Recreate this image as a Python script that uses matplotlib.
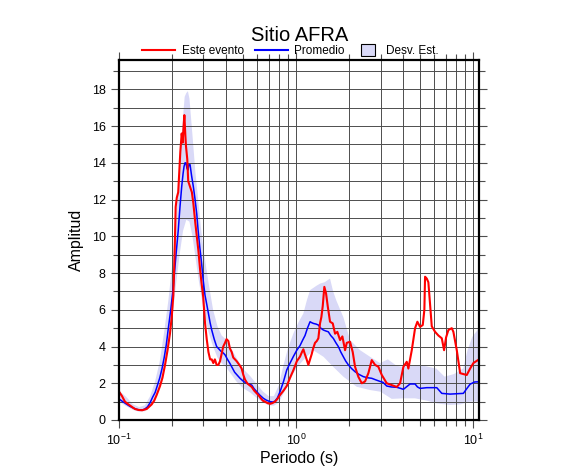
import numpy as np
import matplotlib
matplotlib.use("Agg")
from matplotlib import pyplot as plt
from matplotlib.lines import Line2D
from matplotlib.patches import Rectangle
from matplotlib.ticker import LogLocator, MultipleLocator

plt.rcParams['font.family'] = ['Liberation Sans', 'DejaVu Sans']
plt.rcParams['mathtext.fontset'] = 'custom'
plt.rcParams['mathtext.rm'] = 'Liberation Sans'
plt.rcParams['mathtext.it'] = 'Liberation Sans'

# este evento (red)
evento_T = [0.100, 0.104, 0.108, 0.113, 0.118, 0.123, 0.1285, 0.135, 0.1434, 0.148,
            0.153, 0.158, 0.163, 0.1705, 0.176, 0.182, 0.188, 0.194, 0.1985, 0.2027,
            0.206, 0.209, 0.212, 0.216, 0.219, 0.222, 0.226, 0.229, 0.231, 0.234,
            0.237, 0.239, 0.243, 0.246, 0.252, 0.258, 0.263, 0.266, 0.27, 0.275,
            0.281, 0.287, 0.293, 0.299, 0.306, 0.313, 0.32, 0.327, 0.334, 0.341,
            0.348, 0.356, 0.364, 0.372, 0.38, 0.388, 0.397, 0.405, 0.4145, 0.423,
            0.433, 0.442, 0.452, 0.462, 0.4826, 0.493, 0.504, 0.515, 0.53, 0.545,
            0.562, 0.58, 0.6, 0.6124, 0.63, 0.65, 0.668, 0.69, 0.713, 0.735,
            0.761, 0.785, 0.812, 0.85, 0.886, 0.925, 0.965, 1.01, 1.053, 1.08,
            1.1, 1.12, 1.139, 1.174, 1.2, 1.227, 1.25, 1.28, 1.31, 1.337,
            1.366, 1.39, 1.415, 1.445, 1.477, 1.51, 1.556, 1.612, 1.661, 1.711,
            1.773, 1.827, 1.892, 1.934, 2.018, 2.09, 2.154, 2.249, 2.351, 2.454,
            2.562, 2.677, 2.795, 2.917, 3.05, 3.253, 3.473, 3.707, 3.87, 4.04,
            4.22, 4.31, 4.505, 4.703, 4.846, 5.018, 5.197, 5.307, 5.355, 5.475,
            5.59, 5.715, 5.843, 6.10, 6.368, 6.655, 6.858, 7.04, 7.254, 7.58,
            7.74, 8.09, 8.45, 8.815, 9.21, 9.62, 10.04, 10.8]
evento_A = [1.55, 1.3, 1.0, 0.85, 0.72, 0.6, 0.55, 0.53, 0.6, 0.72,
            0.85, 1.05, 1.35, 1.85, 2.3, 3.0, 3.8, 4.7, 5.6, 6.8,
            9.0, 11.6, 12.1, 12.4, 13.5, 14.6, 15.6, 15.1, 15.8, 16.6,
            15.5, 14.9, 14.2, 13.0, 12.7, 12.4, 11.8, 11.3, 10.7, 10.0,
            9.2, 8.2, 7.4, 6.7, 5.3, 4.4, 3.7, 3.3, 3.3, 3.1,
            3.3, 3.0, 3.0, 3.2, 3.6, 4.0, 4.2, 4.4, 4.3, 3.9,
            3.7, 3.4, 3.3, 3.2, 2.95, 2.8, 2.45, 2.2, 2.0, 1.9,
            1.8, 1.6, 1.45, 1.36, 1.2, 1.05, 1.0, 0.92, 0.88, 0.92,
            1.0, 1.15, 1.36, 1.6, 1.85, 2.3, 2.7, 3.2, 3.45, 3.7,
            3.85, 3.6, 3.4, 3.0, 3.3, 3.6, 3.9, 4.2, 4.3, 4.45,
            5.26, 5.6, 6.2, 7.25, 6.9, 6.2, 5.35, 5.26, 4.7, 4.8,
            4.35, 4.55, 3.8, 4.2, 4.26, 3.7, 2.9, 2.35, 2.0, 2.1,
            2.55, 3.26, 3.0, 2.9, 2.45, 2.0, 1.9, 1.8, 2.0, 2.9,
            3.17, 2.8, 3.8, 5.0, 5.35, 5.07, 5.17, 6.0, 7.8, 7.7,
            7.5, 6.3, 5.1, 4.8, 4.6, 4.45, 3.8, 4.5, 4.9, 5.0,
            4.8, 3.8, 2.55, 2.5, 2.45, 2.8, 3.1, 3.3]

# promedio (blue)
prom_T = [0.100, 0.105, 0.11, 0.115, 0.12, 0.125, 0.13, 0.136, 0.14, 0.145,
          0.15, 0.155, 0.16, 0.165, 0.17, 0.175, 0.18, 0.185, 0.19, 0.196,
          0.2025, 0.209, 0.216, 0.221, 0.226, 0.23, 0.233, 0.236, 0.239, 0.242,
          0.245, 0.248, 0.252, 0.257, 0.263, 0.269, 0.275, 0.28, 0.286, 0.293,
          0.299, 0.306, 0.313, 0.32, 0.327, 0.334, 0.345, 0.356, 0.364, 0.376,
          0.388, 0.397, 0.41, 0.422, 0.433, 0.45, 0.4826, 0.505, 0.5266, 0.545,
          0.562, 0.58, 0.6, 0.625, 0.654, 0.68, 0.713, 0.74, 0.761, 0.785,
          0.812, 0.85, 0.886, 0.925, 0.965, 1.01, 1.053, 1.09, 1.124, 1.16,
          1.2, 1.225, 1.252, 1.3, 1.337, 1.38, 1.426, 1.47, 1.522, 1.57,
          1.625, 1.68, 1.733, 1.79, 1.851, 1.91, 1.975, 2.06, 2.154, 2.27,
          2.40, 2.54, 2.677, 2.83, 2.983, 3.1, 3.253, 3.45, 3.707, 3.9,
          4.04, 4.2, 4.406, 4.703, 4.85, 5.018, 5.475, 6.237, 6.45, 6.655,
          7.413, 8.815, 9.2, 9.62, 10.2, 10.8]
prom_A = [1.15, 1.0, 0.87, 0.75, 0.66, 0.59, 0.55, 0.55, 0.6, 0.72,
          0.95, 1.25, 1.5, 1.9, 2.3, 2.8, 3.4, 4.1, 5.0, 6.0,
          7.2, 8.8, 10.3, 11.6, 12.7, 13.4, 13.8, 14.0, 14.0, 13.7,
          13.6, 13.9, 13.9, 13.3, 12.7, 12.0, 11.2, 10.3, 9.4, 8.5,
          7.6, 6.8, 6.3, 5.8, 5.3, 4.9, 4.4, 4.0, 3.9, 3.75,
          3.65, 3.55, 3.3, 3.1, 2.9, 2.6, 2.27, 2.1, 2.0, 1.95,
          1.9, 1.7, 1.54, 1.35, 1.18, 1.08, 1.0, 0.98, 1.03, 1.2,
          1.54, 2.1, 2.72, 3.1, 3.45, 3.8, 4.05, 4.35, 4.6, 5.0,
          5.35, 5.3, 5.26, 5.22, 5.17, 5.0, 4.9, 4.85, 4.8, 4.6,
          4.44, 4.2, 4.0, 3.7, 3.44, 3.2, 3.0, 2.8, 2.63, 2.48,
          2.36, 2.3, 2.27, 2.18, 2.1, 2.05, 1.85, 1.8, 1.78, 1.72,
          1.67, 1.8, 1.96, 1.96, 1.8, 1.72, 1.76, 1.76, 1.6, 1.45,
          1.41, 1.45, 1.7, 1.95, 2.07, 2.08]

# desv. est. band
sup_T = [0.100, 0.11, 0.12, 0.13, 0.14, 0.15, 0.16, 0.17, 0.18, 0.19,
         0.2, 0.21, 0.22, 0.23, 0.235, 0.24, 0.245, 0.25, 0.26, 0.27,
         0.28, 0.29, 0.3, 0.32, 0.34, 0.36, 0.38, 0.4, 0.43, 0.46,
         0.5, 0.55, 0.6, 0.65, 0.7, 0.75, 0.8, 0.85, 0.9, 0.965,
         1.03, 1.1, 1.15, 1.2, 1.3, 1.37, 1.45, 1.556, 1.62, 1.69,
         1.85, 2.02, 2.3, 2.62, 2.98, 3.3, 3.7, 4.0, 4.5, 5.0,
         6.2, 6.9, 7.8, 8.8, 9.3, 9.9, 10.8]
sup_A = [1.6, 1.25, 0.85, 0.7, 0.8, 1.3, 2.1, 3.2, 4.8, 6.5,
         8.5, 11.0, 14.0, 16.5, 17.6, 17.8, 17.9, 17.5, 15.5, 13.5,
         12.0, 10.5, 9.3, 7.5, 6.0, 5.1, 4.6, 4.4, 3.9, 3.4,
         2.8, 2.4, 1.95, 1.55, 1.3, 1.3, 1.9, 3.0, 3.9, 4.7,
         5.3, 5.8, 6.5, 7.07, 7.3, 7.43, 7.5, 7.7, 7.0, 6.5,
         5.6, 4.35, 3.8, 3.44, 3.1, 3.3, 2.95, 2.9, 2.95, 3.0,
         2.8, 2.36, 2.5, 2.81, 3.8, 4.53, 5.0]
inf_T = [0.100, 0.11, 0.12, 0.13, 0.14, 0.15, 0.16, 0.17, 0.18, 0.19,
         0.2, 0.21, 0.22, 0.23, 0.24, 0.25, 0.26, 0.27, 0.28, 0.29,
         0.3, 0.32, 0.34, 0.36, 0.38, 0.4, 0.43, 0.46, 0.5, 0.55,
         0.6, 0.65, 0.7, 0.75, 0.8, 0.85, 0.9, 0.965, 1.03, 1.1,
         1.25, 1.43, 1.62, 1.85, 2.2, 2.62, 3.0, 3.47, 4.04, 4.7,
         5.5, 6.24, 7.4, 8.5, 9.62, 10.8]
inf_A = [1.0, 0.75, 0.55, 0.45, 0.48, 0.7, 1.2, 1.85, 2.7, 3.9,
         5.5, 7.4, 9.0, 10.3, 10.9, 10.8, 10.0, 8.9, 7.8, 6.9,
         6.0, 4.8, 4.0, 3.4, 3.1, 2.9, 2.5, 2.1, 1.75, 1.5,
         1.2, 0.95, 0.8, 0.78, 0.95, 1.45, 1.9, 2.54, 2.95, 3.26,
         3.8, 3.44, 2.9, 2.36, 1.81, 1.63, 1.54, 1.15, 1.18, 1.18,
         1.05, 0.9, 0.82, 0.85, 1.0, 1.0]

band_color = '#d9d9f7'
W, H = 586, 475

fig = plt.figure(figsize=(W / 100, H / 100), dpi=100)
ax = fig.add_axes([119 / W, 1 - 420 / H, 360 / W, 360 / H])

band_x = np.concatenate([sup_T, inf_T[::-1]])
band_y = np.concatenate([sup_A, inf_A[::-1]])
ax.fill(band_x, band_y, color=band_color, lw=0, zorder=1)
ax.plot(prom_T, prom_A, color='#0000ff', lw=1.1, zorder=3)
ax.plot(evento_T, evento_A, color='#ff0000', lw=1.5, zorder=4)

ax.set_xscale('log')
ax.set_xlim(0.1, 10.8)
ax.set_ylim(0, 19.6)
ax.xaxis.set_major_locator(LogLocator(base=10))
ax.xaxis.set_minor_locator(LogLocator(base=10, subs=np.arange(2, 10)))
ax.yaxis.set_major_locator(MultipleLocator(2))
ax.yaxis.set_minor_locator(MultipleLocator(1))

ax.grid(True, which='both', color='0.3', lw=0.7)
for ln in ax.get_xgridlines() + ax.get_ygridlines():
    ln.set_zorder(2)

for s in ax.spines.values():
    s.set_linewidth(1.6)
    s.set_zorder(5)
ax.tick_params(which='both', direction='out', top=True, right=True,
               labelsize=9, width=0.8, color='0.3')
ax.tick_params(which='major', length=6)
ax.tick_params(which='minor', length=4)

ax.set_xlabel('Periodo (s)', fontsize=11.5, labelpad=2)
ax.set_ylabel('Amplitud', fontsize=11.5, labelpad=6)
fig.text(299.5 / W, 1 - 41 / H, 'Sitio AFRA', fontsize=14.5, ha='center', va='baseline')

# legend row, laid out like the original
ly = 1 - 49.5 / H
ty = 1 - 53.5 / H
fig.add_artist(Line2D([142 / W, 175 / W], [ly, ly], color='#ff0000', lw=1.5,
                      transform=fig.transFigure))
fig.text(182 / W, ty, 'Este evento', fontsize=8.5, va='baseline')
fig.add_artist(Line2D([255 / W, 288 / W], [ly, ly], color='#0000ff', lw=1.5,
                      transform=fig.transFigure))
fig.text(294 / W, ty, 'Promedio', fontsize=8.5, va='baseline')
fig.add_artist(Rectangle((361 / W, 1 - 56 / H), 14 / W, 12 / H, facecolor=band_color,
                         edgecolor='black', lw=0.8, transform=fig.transFigure))
fig.text(386 / W, ty, 'Desv. Est.', fontsize=8.5, va='baseline')

fig.savefig('out.png', dpi=100)
